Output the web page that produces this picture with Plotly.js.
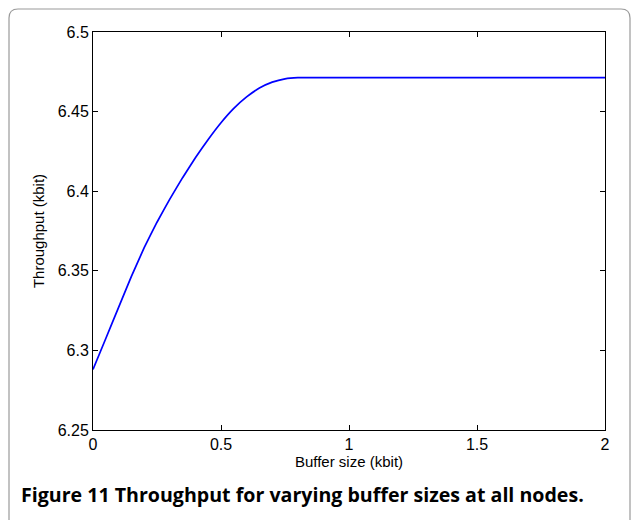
<!DOCTYPE html>
<html>
<head>
<meta charset="utf-8">
<script src="https://cdn.plot.ly/plotly-3.0.1.min.js"></script>
<style>html,body{margin:0;padding:0;background:#fff;}#chart{width:635px;height:520px;}</style>
</head>
<body>
<div id="chart"></div>
<script>
// Data
const bufferSize = [0, 0.05, 0.10, 0.15, 0.20, 0.25, 0.30, 0.35, 0.40, 0.45, 0.50, 0.55, 0.60, 0.65, 0.70, 0.75, 0.80, 1.0, 1.25, 1.5, 1.75, 2.0];
const throughput = [6.288, 6.3075, 6.327, 6.3465, 6.3645, 6.3805, 6.3950, 6.4085, 6.4210, 6.4325, 6.4430, 6.4520, 6.4592, 6.4648, 6.4685, 6.4706, 6.4713, 6.4713, 6.4713, 6.4713, 6.4713, 6.4713];
const xTicks = [0, 0.5, 1, 1.5, 2];
const yTicks = [6.25, 6.3, 6.35, 6.4, 6.45, 6.5];
const xTitle = 'Buffer size (kbit)';
const yTitle = 'Throughput (kbit)';
const captionText = '<b>Figure 11 Throughput for varying buffer sizes at all nodes.</b>';

const W = 635, H = 520, L = 93, R = 30, T = 32, B = 90;
const pw = W - L - R, ph = H - T - B;
const px = v => (v - L) / pw;
const py = v => (H - B - v) / ph;

// rounded frame (open at the bottom)
const fx0 = px(9), fx1 = px(630), fy0 = py(9), fyb = py(530);
const rx = 9 / pw, ry = 9 / ph;
const framePath = `M ${fx0} ${fyb} L ${fx0} ${fy0 - ry} Q ${fx0} ${fy0} ${fx0 + rx} ${fy0} L ${fx1 - rx} ${fy0} Q ${fx1} ${fy0} ${fx1} ${fy0 - ry} L ${fx1} ${fyb}`;

const sans = 'Liberation Sans, Arial, sans-serif';
const axisFont = {family: sans, size: 16, color: '#000'};
const titleFont = {family: sans, size: 15, color: '#000'};

Plotly.newPlot('chart', [{
  x: bufferSize, y: throughput, type: 'scatter', mode: 'lines',
  line: {color: '#0000ff', width: 1.7, shape: 'spline', smoothing: 0.3},
  hoverinfo: 'skip'
}], {
  width: W, height: H,
  margin: {l: L, r: R, t: T, b: B, pad: 0},
  paper_bgcolor: '#fff', plot_bgcolor: '#fff',
  showlegend: false,
  xaxis: {
    range: [0, 2], tickvals: xTicks, ticktext: xTicks.map(String),
    ticks: 'inside', ticklen: 5, tickcolor: '#000', tickwidth: 1,
    showline: true, linecolor: '#000', linewidth: 1, mirror: 'ticks',
    showgrid: false, zeroline: false,
    tickfont: axisFont,
    title: {text: xTitle, font: titleFont, standoff: 2}
  },
  yaxis: {
    range: [6.25, 6.5], tickvals: yTicks, ticktext: yTicks.map(String),
    ticks: 'inside', ticklen: 5, tickcolor: '#000', tickwidth: 1,
    showline: true, linecolor: '#000', linewidth: 1, mirror: 'ticks',
    showgrid: false, zeroline: false,
    tickfont: axisFont,
    title: {text: yTitle, font: titleFont, standoff: 9}
  },
  shapes: [{
    type: 'path', xref: 'paper', yref: 'paper', path: framePath,
    line: {color: '#9a9a9a', width: 1.2}, layer: 'below'
  }],
  annotations: [{
    xref: 'paper', yref: 'paper', x: px(19), y: py(494), xanchor: 'left', yanchor: 'middle',
    text: captionText, showarrow: false,
    font: {family: 'Open Sans, Noto Sans, sans-serif', size: 19.6, color: '#000'}
  }]
}, {displayModeBar: false, staticPlot: true});
</script>
</body>
</html>
